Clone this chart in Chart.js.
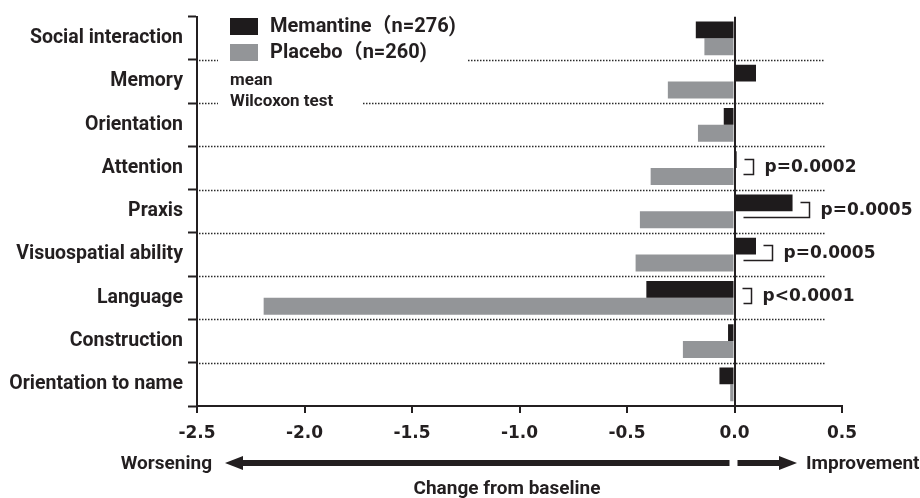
<!DOCTYPE html>
<html>
<head>
<meta charset="utf-8">
<script src="https://cdn.jsdelivr.net/npm/chart.js@4"></script>
<style>
  html, body { margin: 0; padding: 0; background: #fff; }
  #wrap { width: 920px; height: 498px; }
</style>
</head>
<body>
<div id="wrap"><canvas id="chart" width="920" height="498"></canvas></div>
<script>
// Change from baseline per domain
const categories = ['Social interaction', 'Memory', 'Orientation', 'Attention', 'Praxis',
  'Visuospatial ability', 'Language', 'Construction', 'Orientation to name'];
const memantine = [-0.18, 0.10, -0.05, 0.01, 0.27, 0.10, -0.41, -0.03, -0.07];
const placebo = [-0.14, -0.31, -0.17, -0.39, -0.44, -0.46, -2.19, -0.24, -0.02];
const pLabels = [null, null, null, 'p=0.0002', 'p=0.0005', 'p=0.0005', 'p<0.0001', null, null];
const seriesNames = ['Memantine（n=276)', 'Placebo（n=260)'];
const xMin = -2.5, xMax = 0.5, xStep = 0.5;

const INK = '#231f20';
const LABEL_FONT = 'Roboto, "Noto Sans CJK JP", sans-serif';
const NUM = '"DejaVu Sans", sans-serif';

// dotted separators, legend, p-value brackets and the direction arrows
const extras = {
  id: 'extras',
  afterDraw(chart) {
    const ctx = chart.ctx;
    const xs = chart.scales.x, ys = chart.scales.y;
    const area = chart.chartArea;
    const zero = xs.getPixelForValue(0);
    const dotEnd = xs.getPixelForValue(0.42);
    ctx.save();

    // dotted row separators (first two break around the legend)
    ctx.strokeStyle = '#2a2a2a';
    ctx.lineWidth = 1.5;
    ctx.setLineDash([1.5, 1.5]);
    for (let i = 1; i < categories.length; i++) {
      const y = Math.round((ys.getPixelForValue(i - 1) + ys.getPixelForValue(i)) / 2) + 0.5;
      let segs = [[area.left + 2, dotEnd]];
      if (i === 1) segs = [[area.left + 2, 218], [468, dotEnd]];
      if (i === 2) segs = [[area.left + 2, 218], [363, dotEnd]];
      segs.forEach(([a, b]) => {
        ctx.beginPath(); ctx.moveTo(a, y); ctx.lineTo(b, y); ctx.stroke();
      });
    }
    ctx.setLineDash([]);

    // legend
    const ds = chart.data.datasets;
    ctx.textBaseline = 'middle';
    ctx.textAlign = 'left';
    ds.forEach((d, k) => {
      const top = 18 + k * 26;
      ctx.fillStyle = d.backgroundColor;
      ctx.fillRect(230, top, 28, 17);
      ctx.fillStyle = INK;
      ctx.font = 'bold 20px ' + LABEL_FONT;
      ctx.fillText(d.label, 270, top + 9);
    });
    ctx.font = 'bold 17px ' + LABEL_FONT;
    ctx.fillText('mean', 230, 81);
    ctx.fillText('Wilcoxon test', 230, 102);

    // p-value brackets
    const m = chart.getDatasetMeta(0).data;
    const p = chart.getDatasetMeta(1).data;
    ctx.strokeStyle = INK;
    ctx.lineWidth = 1.5;
    pLabels.forEach((lab, i) => {
      if (!lab) return;
      const end = Math.max(m[i].x, zero);
      const bx = Math.round(end + 16) + 0.5;
      const top = Math.round(m[i].y) - 0.5;
      const bot = Math.round(p[i].y) - 2.5;
      ctx.beginPath();
      ctx.moveTo(bx - 9, top); ctx.lineTo(bx, top);
      ctx.lineTo(bx, bot); ctx.lineTo(zero + 9, bot);
      ctx.stroke();
      ctx.fillStyle = INK;
      ctx.font = 'bold 17px ' + NUM;
      ctx.fillText(lab, bx + 11, (top + bot) / 2 + 1);
    });

    // direction arrows and axis caption
    const ay = 463;
    ctx.fillStyle = INK;
    ctx.fillRect(240, ay - 3, zero - 5 - 240, 6);
    ctx.beginPath();
    ctx.moveTo(225, ay); ctx.lineTo(243, ay - 7); ctx.lineTo(243, ay + 7); ctx.closePath(); ctx.fill();
    ctx.fillRect(zero + 3, ay - 3, 780 - zero - 3, 6);
    ctx.beginPath();
    ctx.moveTo(797, ay); ctx.lineTo(779, ay - 7); ctx.lineTo(779, ay + 7); ctx.closePath(); ctx.fill();

    ctx.font = 'bold 19px ' + LABEL_FONT;
    ctx.textAlign = 'right';
    ctx.fillText('Worsening', 212, ay + 1);
    ctx.textAlign = 'left';
    ctx.fillText('Improvement', 806, ay + 1);
    ctx.textAlign = 'center';
    ctx.fillText('Change from baseline', 507, 489);
    ctx.restore();
  }
};

new Chart(document.getElementById('chart'), {
  type: 'bar',
  data: {
    labels: categories,
    datasets: [
      { label: seriesNames[0], data: memantine, backgroundColor: '#1e1b1c' },
      { label: seriesNames[1], data: placebo, backgroundColor: '#939598' }
    ]
  },
  options: {
    indexAxis: 'y',
    responsive: false,
    animation: false,
    devicePixelRatio: 1,
    layout: { padding: { left: 0, top: 13, right: 78, bottom: 0 } },
    datasets: { bar: { categoryPercentage: 0.78, barPercentage: 1.0 } },
    scales: {
      x: {
        min: xMin, max: xMax,
        afterFit: s => { s.height = 92; },
        ticks: {
          stepSize: xStep,
          color: INK,
          padding: 10,
          font: { family: NUM, size: 17, weight: 'bold' },
          callback: v => v.toFixed(1)
        },
        grid: {
          color: c => (c.tick && c.tick.value === 0) ? INK : 'rgba(0,0,0,0)',
          lineWidth: 2,
          tickColor: INK,
          tickLength: 7,
          tickWidth: 2
        },
        border: { color: INK, width: 2 }
      },
      y: {
        afterFit: s => { s.width = 197; },
        ticks: {
          color: INK,
          padding: 5,
          font: { family: LABEL_FONT, size: 19.5, weight: 'bold' }
        },
        grid: {
          offset: true,
          drawOnChartArea: false,
          tickColor: INK,
          tickLength: 9,
          tickWidth: 2
        },
        border: { color: INK, width: 2 }
      }
    },
    plugins: {
      legend: { display: false },
      tooltip: { enabled: false }
    }
  },
  plugins: [extras]
});
</script>
</body>
</html>
